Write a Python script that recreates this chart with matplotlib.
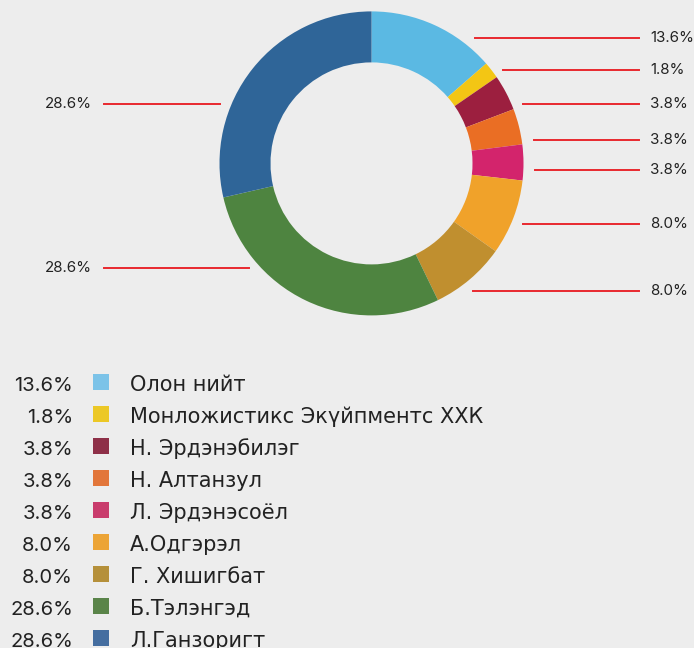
#!/usr/bin/env python3
# -*- coding: utf-8 -*-

import numpy as np
from matplotlib import pyplot as plt

# data
names = ["Олон нийт", "Монложистикс Экүйпментс ХХК", "Н. Эрдэнэбилэг", "Н. Алтанзул",
         "Л. Эрдэнэсоёл", "А.Одгэрэл", "Г. Хишигбат", "Б.Тэлэнгэд", "Л.Ганзоригт"]
shares = [13.6, 1.8, 3.8, 3.8, 3.8, 8.0, 8.0, 28.6, 28.6]
pct_labels = ["13.6%", "1.8%", "3.8%", "3.8%", "3.8%", "8.0%", "8.0%", "28.6%", "28.6%"]

# styles
wedge_colors = ["#5bb9e3", "#f3c614", "#9c1f3f", "#ea6e24", "#d3246c",
                "#f0a22a", "#c08f2f", "#4e8440", "#2f6598"]
swatch_colors = ["#7cc3e8", "#ecc826", "#8e3048", "#e2763a", "#c93c6c",
                 "#eca436", "#b5903a", "#5a8449", "#456ea0"]
BG = "#ededed"
LINE_RED = "#e8282e"
TXT = "#222222"
FONT = ["Inter", "DejaVu Sans"]
NAME_FONT = ["DejaVu Sans"]

# layout (pixels, y measured from top)
W, H = 694, 648
CX, CY, R, RING = 371.5, 163.4, 152, 51
label_y = [37.7, 70, 104, 140, 170, 223.5, 290.7, 268, 104]
label_side = [1, 1, 1, 1, 1, 1, 1, -1, -1]
LEG_TOP, LEG_STEP = 391, 32


def main():
    fig = plt.figure(figsize=(W / 100, H / 100), dpi=100, facecolor=BG)
    ax = fig.add_axes([0, 0, 1, 1])
    ax.set_facecolor(BG)

    ax.pie(shares, colors=wedge_colors, startangle=90, counterclock=False,
           center=(CX, H - CY), radius=R,
           wedgeprops=dict(width=RING, linewidth=0, edgecolor="none"))
    ax.set_xlim(0, W)
    ax.set_ylim(0, H)
    ax.set_aspect("auto")
    ax.axis("off")

    # leader lines + labels
    for lab, y, side in zip(pct_labels, label_y, label_side):
        dy = abs(y - CY)
        edge = np.sqrt(max(R ** 2 - dy ** 2, 0))
        gap = 12 + 6 * (dy > 110)
        if side > 0:
            x0, x1 = CX + edge + gap, 639
            ax.plot([x0, x1], [H - y, H - y], color=LINE_RED, lw=1.4)
            ax.text(650, H - y, lab, fontsize=10.9, family=FONT, color=TXT,
                    ha="left", va="center")
        else:
            x0, x1 = CX - edge - gap, 104
            ax.plot([x0, x1], [H - y, H - y], color=LINE_RED, lw=1.4)
            ax.text(92, H - y, lab, fontsize=10.9, family=FONT, color=TXT,
                    ha="right", va="center")

    # legend
    for i, (lab, name, col) in enumerate(zip(pct_labels, names, swatch_colors)):
        base = H - (LEG_TOP + i * LEG_STEP)
        ax.text(73, base, lab, fontsize=14.5, family=FONT, color=TXT,
                ha="right", va="baseline")
        ax.scatter([101], [base + 9], marker="s", s=135, color=col, linewidths=0)
        ax.text(130, base, name, fontsize=15, family=NAME_FONT, color=TXT,
                ha="left", va="baseline")

    fig.savefig("out.png", dpi=100, facecolor=BG)


if __name__ == "__main__":
    main()
